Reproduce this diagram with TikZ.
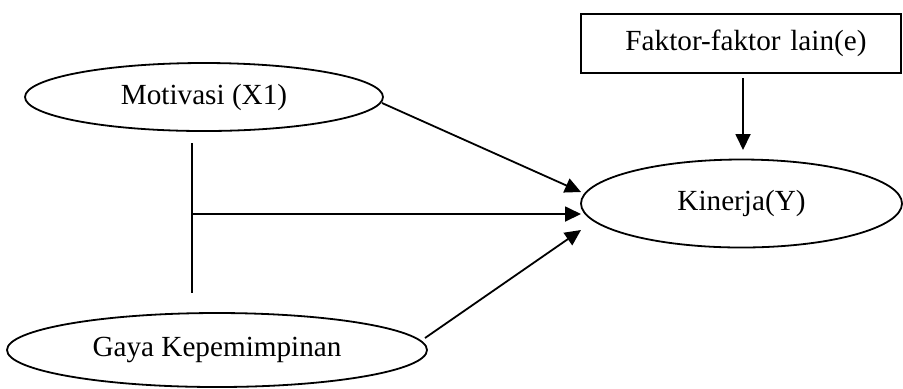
\documentclass[tikz,border=0pt]{standalone}
\usepackage{fontspec}
\setmainfont{Liberation Serif}
\usetikzlibrary{arrows.meta,shapes.geometric}
\begin{document}
\begin{tikzpicture}[x=0.5pt,y=-0.5pt,
  every node/.style={font=\fontsize{14.6}{17}\selectfont, inner sep=0pt},
  oval/.style={ellipse, draw, line width=0.9pt},
  rectbox/.style={rectangle, draw, line width=0.9pt},
  conn/.style={line width=0.9pt},
  arr/.style={line width=0.9pt, -{Triangle[length=8pt,width=7.5pt]}}]
\useasboundingbox (0,0) rectangle (903,388);
\node[oval, minimum width=179pt, minimum height=34pt] (mot) at (204,97) {Motivasi (X1)};
\node[oval, minimum width=160.5pt, minimum height=44pt] (kin) at (741.5,203.5) {Kinerja(Y)};
\node[oval, minimum width=210pt, minimum height=37pt] (gaya) at (217,350) {Gaya Kepemimpinan};
\node[rectbox, minimum width=160pt, minimum height=29.5pt, text width=160pt, align=center] (fak) at (741,43.5) {\hspace*{5pt}Faktor-faktor lain(e)};
% connector end points
\coordinate (m1) at (382,103);
\coordinate (g1) at (425,338);
\coordinate (f1) at (743,78);
\coordinate (k1) at (581,192);
\coordinate (k2) at (581,214);
\coordinate (k3) at (581,230);
\coordinate (k4) at (743,150);
\coordinate (vtop) at (192,143);
\coordinate (vbot) at (192,293);
\coordinate (j) at (192,214);
\draw[arr] (m1) -- (k1);
\draw[arr] (g1) -- (k3);
\draw[arr] (f1) -- (k4);
\draw[conn] (vtop) -- (vbot);
\draw[arr] (j) -- (k2);
\end{tikzpicture}
\end{document}
